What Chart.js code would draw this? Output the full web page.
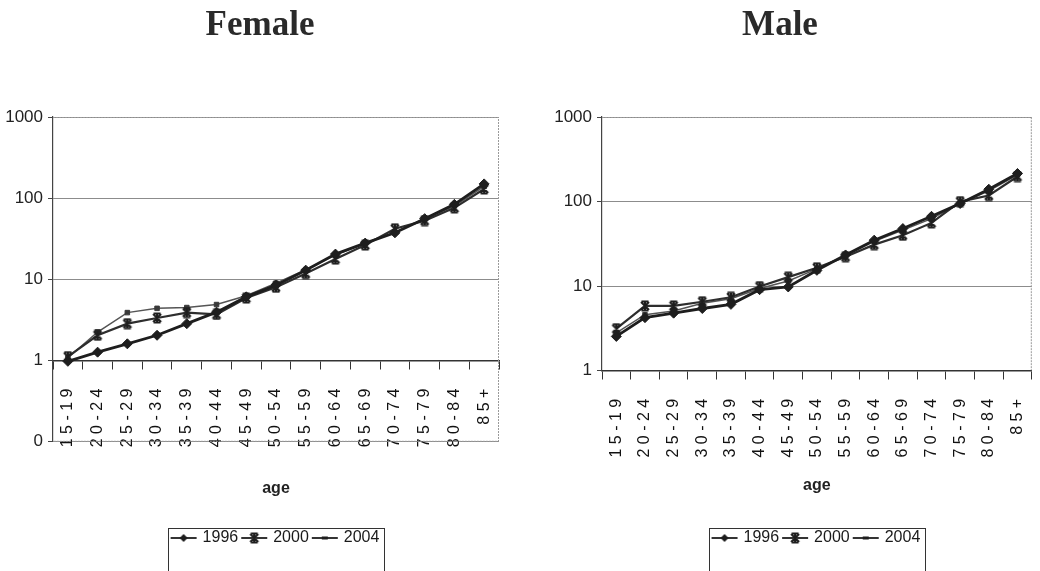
<!DOCTYPE html>
<html>
<head>
<meta charset="utf-8">
<script src="https://cdn.jsdelivr.net/npm/chart.js@4.4.1/dist/chart.umd.min.js"></script>
<style>
  html, body { margin: 0; padding: 0; background: #fff; }
  #wrap { position: relative; width: 1040px; height: 571px; }
  canvas { position: absolute; top: 0; }
  #female { left: 0; }
  #male { left: 520px; }
</style>
</head>
<body>
<div id="wrap">
  <canvas id="female" width="520" height="571"></canvas>
  <canvas id="male" width="520" height="571"></canvas>
</div>
<script>
const ageGroups = ["15-19", "20-24", "25-29", "30-34", "35-39", "40-44", "45-49", "50-54",
  "55-59", "60-64", "65-69", "70-74", "75-79", "80-84", "85+"];
const years = ["1996", "2000", "2004"];

const female1996 = [0.98, 1.27, 1.61, 2.05, 2.85, 3.95, 6.1, 8.5, 13.0, 20.5, 28.0, 37.5, 56, 84, 150];
const female2000 = [1.12, 2.05, 2.85, 3.35, 3.9, 3.7, 5.9, 8.0, 11.8, 17.8, 26.5, 42, 53, 76, 130];
const female2004 = [1.08, 2.25, 3.9, 4.4, 4.5, 4.9, 6.3, 9.0, 13.2, 20.0, 28.0, 38, 56, 80, 140];

const male1996 = [2.55, 4.25, 4.8, 5.45, 6.1, 9.1, 9.8, 15.4, 23.4, 35, 48, 67, 95, 140, 215];
const male2000 = [3.15, 5.85, 5.85, 6.55, 7.4, 9.9, 12.8, 16.5, 22.3, 31, 40, 56, 100, 118, 198];
const male2004 = [2.8, 4.6, 5.1, 6.3, 7.1, 9.4, 11.5, 16.0, 23.0, 34, 46, 63, 95, 134, 207];

const femaleTicks = [0.1, 1, 10, 100, 1000];
const maleTicks = [1, 10, 100, 1000];

const sans = "'Liberation Sans Narrow', 'Arial Narrow', 'Liberation Sans', sans-serif";
const ink = "#1e1e1e";

// marker for the 2000 series (x with bars, like the old excel star)
function starMarker() {
  const c = document.createElement("canvas");
  c.width = 12; c.height = 12;
  const g = c.getContext("2d");
  g.strokeStyle = ink; g.lineWidth = 2;
  g.beginPath();
  g.moveTo(2, 2); g.lineTo(10, 10);
  g.moveTo(10, 2); g.lineTo(2, 10);
  g.moveTo(6, 1); g.lineTo(6, 11);
  g.moveTo(2.5, 1.5); g.lineTo(9.5, 1.5);
  g.moveTo(2.5, 10.5); g.lineTo(9.5, 10.5);
  g.stroke();
  return c;
}

function legendMarker(kind) {
  const c = document.createElement("canvas");
  c.width = 28; c.height = 12;
  const g = c.getContext("2d");
  g.strokeStyle = ink; g.fillStyle = ink;
  g.lineWidth = 1.8;
  g.beginPath(); g.moveTo(1, 6); g.lineTo(27, 6); g.stroke();
  if (kind === "diamond") {
    g.beginPath();
    g.moveTo(14, 2); g.lineTo(18, 6); g.lineTo(14, 10); g.lineTo(10, 6);
    g.closePath(); g.fill();
  } else if (kind === "star") {
    g.drawImage(starMarker(), 8, 0);
  } else {
    g.fillRect(11, 4.5, 6, 3);
  }
  return c;
}

const legendImages = [legendMarker("diamond"), legendMarker("star"), legendMarker("dash")];

const framePlugin = {
  id: "frame",
  beforeDatasetsDraw(chart, args, opts) {
    const { ctx, chartArea: a } = chart;
    ctx.save();
    ctx.strokeStyle = "#9a9a9a";
    ctx.lineWidth = 1;
    ctx.setLineDash([2, 1]);
    ctx.beginPath();
    ctx.moveTo(a.left, a.top + 0.5);
    ctx.lineTo(a.right - 0.5, a.top + 0.5);
    ctx.lineTo(a.right - 0.5, a.bottom - 0.5);
    if (opts.bottom) ctx.lineTo(a.left, a.bottom - 0.5);
    ctx.stroke();
    ctx.restore();
  },
  afterDraw(chart) {
    const boxes = chart.legend.legendHitBoxes;
    if (!boxes || !boxes.length) return;
    const first = boxes[0], last = boxes[boxes.length - 1];
    const ctx = chart.ctx;
    ctx.save();
    ctx.strokeStyle = "#333";
    ctx.lineWidth = 1;
    ctx.strokeRect(Math.round(first.left - 5) + 0.5, Math.round(first.top - 2) + 0.5,
      Math.round(last.left + last.width - first.left + 9), 80);
    ctx.restore();
  }
};

function makeChart(id, title, series, ticksArr, yMin, yWidth, rightGap, subPad) {
  return new Chart(document.getElementById(id), {
    type: "line",
    data: {
      labels: ageGroups,
      datasets: [
        { label: years[0], data: series[0], borderColor: "#1e1e1e", borderWidth: 2.8,
          pointStyle: "rectRot", pointRadius: 5, pointBackgroundColor: "#1e1e1e",
          pointBorderColor: "#1e1e1e", pointBorderWidth: 1 },
        { label: years[1], data: series[1], borderColor: "#2e2e2e", borderWidth: 2.2,
          pointStyle: starMarker(), pointRadius: 6 },
        { label: years[2], data: series[2], borderColor: "#555", borderWidth: 1.5,
          pointStyle: "rect", pointRadius: 3.2, pointBackgroundColor: "#3a3a3a",
          pointBorderColor: "#3a3a3a", pointBorderWidth: 1 }
      ]
    },
    options: {
      responsive: false,
      animation: false,
      layout: { padding: { left: 0, right: 0, top: 0, bottom: 15 } },
      scales: {
        x: {
          type: "category",
          offset: true,
          position: { y: 1 },
          afterFit: (s) => { s.paddingLeft = 0; s.paddingRight = 0; },
          grid: { display: true, offset: true, drawOnChartArea: false, drawTicks: true,
            tickLength: 8, tickColor: "#333", tickWidth: 1 },
          border: { color: "#333", width: 1.5 },
          ticks: {
            autoSkip: false, minRotation: 90, maxRotation: 90, padding: 20,
            color: "#111",
            font: { family: "'Liberation Sans', Arial, sans-serif", size: 16 },
            callback: function (value) {
              return this.getLabelForValue(value).split("").join(" ");
            }
          }
        },
        y: {
          type: "logarithmic",
          min: yMin,
          max: 1000,
          afterBuildTicks: (s) => { s.ticks = ticksArr.map((v) => ({ value: v })); },
          afterFit: (s) => { s.width = yWidth; },
          grid: { color: "#8c8c8c", lineWidth: 1, tickLength: 5, tickColor: "#444" },
          border: { color: "#444", width: 1.2 },
          ticks: {
            padding: 5, color: "#222",
            font: { family: sans, size: 17 },
            callback: (v) => (v < 1 ? "0" : String(v))
          }
        },
        // empty right-hand strip so the title stays centred on the whole panel
        gap: {
          type: "linear", position: "right", display: true,
          afterFit: (s) => { s.width = rightGap; },
          grid: { display: false }, border: { display: false }, ticks: { display: false }
        }
      },
      plugins: {
        frame: { bottom: yMin < 1 },
        title: {
          display: true, text: title, color: "#2a2a2a",
          font: { family: "'Liberation Serif', 'Times New Roman', serif", size: 35, weight: "bold" },
          padding: { top: 5, bottom: 70 }
        },
        subtitle: {
          display: true, text: "age", position: "bottom", fullSize: false, color: "#222",
          font: { family: sans, size: 16, weight: "bold" },
          padding: subPad
        },
        legend: {
          position: "bottom", fullSize: false, weight: 3000,
          labels: {
            usePointStyle: true, pointStyleWidth: 22, padding: 5, color: "#1a1a1a",
            font: { family: sans, size: 16 },
            generateLabels: (chart) => chart.data.datasets.map((ds, i) => ({
              text: ds.label, pointStyle: legendImages[i], fillStyle: "transparent",
              strokeStyle: "transparent", lineWidth: 0, hidden: false, datasetIndex: i,
              fontColor: "#1a1a1a"
            }))
          }
        },
        tooltip: { enabled: false }
      }
    },
    plugins: [framePlugin]
  });
}

makeChart("female", "Female", [female1996, female2000, female2004], femaleTicks, 0.1, 53, 21,
  { top: 37, bottom: 27 });
makeChart("male", "Male", [male1996, male2000, male2004], maleTicks, 1, 82, 6,
  { top: 105, bottom: 30 });
</script>
</body>
</html>
